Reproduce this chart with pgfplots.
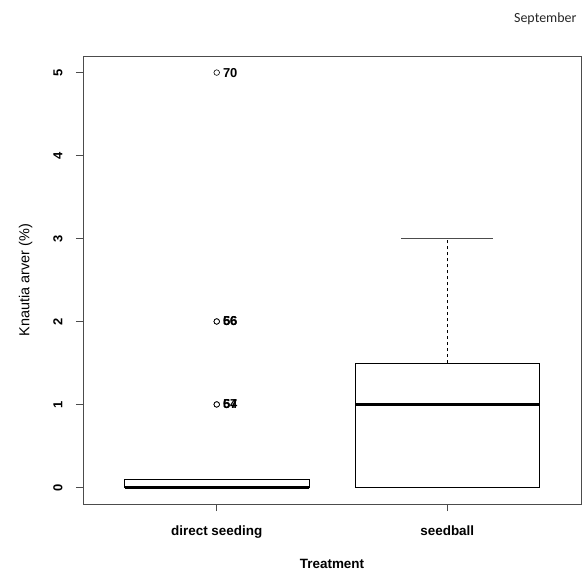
\documentclass[border=0pt]{standalone}
\usepackage{pgfplots}
\pgfplotsset{compat=1.18}
\usepgfplotslibrary{statistics}
\usepackage{fontspec}
\setmainfont{Liberation Sans}
\newfontfamily\calfont{Carlito}
\begin{document}
\begin{tikzpicture}
\begin{axis}[
  scale only axis,
  width=498bp, height=448bp,
  xmin=0.42, xmax=2.58,
  ymin=-0.2, ymax=5.2,
  axis line style={black!70, line width=0.8bp},
  xtick={1,2},
  xticklabels={direct seeding, seedball},
  ytick={0,1,2,3,4,5},
  tick align=outside,
  tick style={black!70, line width=0.8bp},
  major tick length=7bp,
  xtick pos=bottom, ytick pos=left,
  yticklabel style={rotate=90, anchor=south, font=\fontsize{13}{15}\selectfont\bfseries},
  yticklabel shift=10bp,
  xticklabel style={font=\fontsize{13.5}{15}\selectfont\bfseries, yshift=-11bp},
  /pgf/number format/assume math mode=true,
  xlabel={\bfseries Treatment},
  xlabel style={font=\fontsize{13.5}{15}\selectfont, yshift=-14bp},
  ylabel={Knautia arver (\%)},
  ylabel style={font=\fontsize{14.5}{16}\selectfont, yshift=14bp},
  clip=false,
  boxplot/draw direction=y,
  boxplot/box extend=0.8,
  boxplot/whisker extend=0.4,
  boxplot/every median/.style={line width=2.4bp},
  boxplot/draw/upper whisker/.code={%
    \draw[dashed, line width=0.8bp] (boxplot cs:\pgfplotsboxplotvalue{upper quartile},0) -- (boxplot cs:\pgfplotsboxplotvalue{upper whisker},0);
    \draw[black!70, line width=0.8bp] (boxplot whisker cs:\pgfplotsboxplotvalue{upper whisker},0) -- (boxplot whisker cs:\pgfplotsboxplotvalue{upper whisker},1);
  },
  boxplot/draw/lower whisker/.code={%
    \draw[dashed, line width=0.8bp] (boxplot cs:\pgfplotsboxplotvalue{lower quartile},0) -- (boxplot cs:\pgfplotsboxplotvalue{lower whisker},0);
    \draw[line width=0.8bp] (boxplot whisker cs:\pgfplotsboxplotvalue{lower whisker},0) -- (boxplot whisker cs:\pgfplotsboxplotvalue{lower whisker},1);
  },
]
\addplot[black, line width=0.8bp, boxplot prepared={
  draw position=1,
  lower whisker=0, lower quartile=0, median=0,
  upper quartile=0.1, upper whisker=0.1}] coordinates {};
\addplot[black, line width=0.8bp, boxplot prepared={
  draw position=2,
  lower whisker=0, lower quartile=0, median=1,
  upper quartile=1.5, upper whisker=3}] coordinates {};
\addplot[only marks, mark=o, mark size=2.8bp, black, line width=0.6bp,
  nodes near coords, point meta=explicit symbolic,
  nodes near coords style={anchor=west, xshift=5bp, inner sep=1pt, font=\fontsize{13}{15}\selectfont\bfseries}]
  coordinates {(1,5) [70] (1,2) [66] (1,2) [56] (1,1) [54] (1,1) [67]};
\end{axis}
\node[anchor=east, font=\calfont\fontsize{14}{16}\selectfont, text=black!85] at ([xshift=-1bp,yshift=37bp]current axis.north east) {September};
\pgfresetboundingbox
\path ([xshift=-83bp,yshift=-71bp]current axis.south west) rectangle ++(583bp,575bp);
\end{tikzpicture}
\end{document}
